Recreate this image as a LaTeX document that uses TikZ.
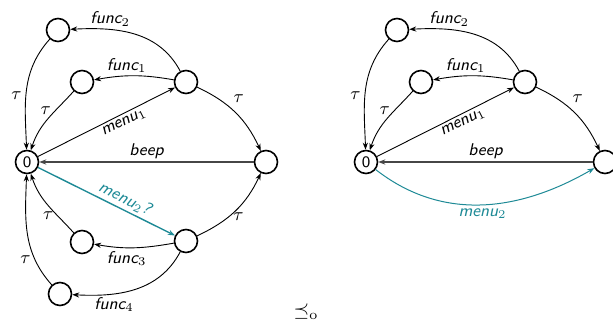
\documentclass[tikz,border=0pt]{standalone}
\usetikzlibrary{arrows.meta}
\definecolor{tealc}{RGB}{30,138,150}
\definecolor{beepc}{RGB}{70,70,70}
\begin{document}
\begin{tikzpicture}[x=0.5pt,y=0.5pt,
  state/.style={circle,draw,line width=0.8pt,minimum size=11.5pt,inner sep=0pt,font=\sffamily\fontsize{8}{9}\selectfont},
  tr/.style={-{Stealth[length=3.5pt,width=2.6pt]},line width=0.45pt},
  lbl/.style={font=\sffamily\itshape\fontsize{8.5}{10}\selectfont,inner sep=1.5pt},
  tau/.style={font=\fontsize{9}{10}\selectfont,inner sep=2pt},
  beepedge/.style={tr,draw=beepc,line width=0.65pt},
  tealedge/.style={tr,draw=tealc,line width=0.7pt}]
\useasboundingbox (0,0) rectangle (613,326);

% ---- left system ----
\node[state] (z)  at (27,164) {0};
\node[state] (r)  at (266,164) {};
\node[state] (m1) at (186,244) {};
\node[state] (f1) at (82,244) {};
\node[state] (f2) at (58,296) {};
\node[state] (m2) at (186,85) {};
\node[state] (f3) at (82,84) {};
\node[state] (f4) at (60,32) {};

\draw[tr] (z) -- node[lbl,sloped,below,pos=0.6] {menu$_1$} (m1);
\draw[tr] (m1) to[out=170,in=10] node[lbl,above,pos=0.6] {func$_1$} (f1);
\draw[tr] (m1) to[out=118,in=3] node[lbl,above,pos=0.7] {func$_2$} (f2);
\draw[tr] (f1) to[out=228,in=72] node[tau,left,pos=0.35] {$\tau$} (z);
\draw[tr] (f2) to[out=228,in=92] node[tau,left,pos=0.55] {$\tau$} (z);
\draw[tr] (m1) to[out=-25,in=115] node[tau,above right,pos=0.4] {$\tau$} (r);
\draw[beepedge] (r) -- node[lbl,above] {beep} (z);
\draw[tealedge] (z) -- node[lbl,sloped,above,pos=0.6,text=tealc] {menu$_2$?} (m2);
\draw[tr] (m2) to[out=25,in=-115] node[tau,right,pos=0.4] {$\tau$} (r);
\draw[tr] (m2) to[out=190,in=-10] node[lbl,below,pos=0.6] {func$_3$} (f3);
\draw[tr] (m2) to[out=-118,in=-3] node[lbl,below,pos=0.68] {func$_4$} (f4);
\draw[tr] (f3) to[out=132,in=-72] node[tau,left,pos=0.3] {$\tau$} (z);
\draw[tr] (f4) to[out=132,in=-92] node[tau,left,pos=0.25] {$\tau$} (z);

% ---- right system ----
\node[state] (zz)  at (366,164) {0};
\node[state] (rr)  at (605,164) {};
\node[state] (mm1) at (525,244) {};
\node[state] (ff1) at (421,244) {};
\node[state] (ff2) at (397,296) {};

\draw[tr] (zz) -- node[lbl,sloped,below,pos=0.6] {menu$_1$} (mm1);
\draw[tr] (mm1) to[out=170,in=10] node[lbl,above,pos=0.6] {func$_1$} (ff1);
\draw[tr] (mm1) to[out=118,in=3] node[lbl,above,pos=0.7] {func$_2$} (ff2);
\draw[tr] (ff1) to[out=228,in=72] node[tau,left,pos=0.35] {$\tau$} (zz);
\draw[tr] (ff2) to[out=228,in=92] node[tau,left,pos=0.55] {$\tau$} (zz);
\draw[tr] (mm1) to[out=-25,in=115] node[tau,above right,pos=0.4] {$\tau$} (rr);
\draw[beepedge] (rr) -- node[lbl,above] {beep} (zz);
\draw[tealedge,line width=0.5pt] (zz) to[out=-38,in=-150] node[lbl,below,text=tealc] {menu$_2$} (rr);

% ---- relation symbol ----
\node (rel) at (306,14) {$\preceq_{\mathrm{o}}$};
\end{tikzpicture}
\end{document}
